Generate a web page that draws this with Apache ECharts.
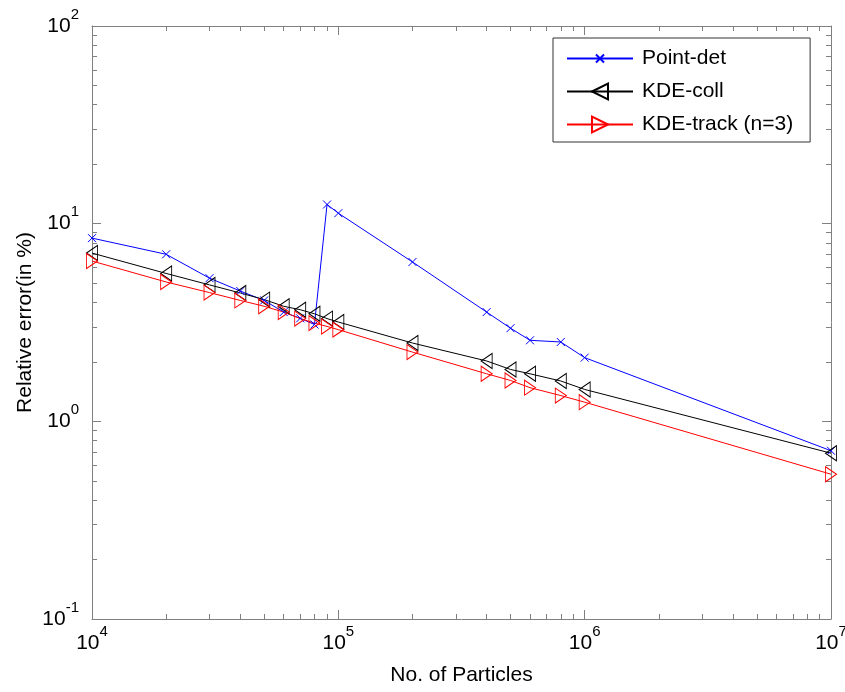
<!DOCTYPE html>
<html>
<head>
<meta charset="utf-8">
<script src="https://cdn.jsdelivr.net/npm/echarts@6/dist/echarts.min.js"></script>
<style>
html,body{margin:0;padding:0;background:#fff;}
#chart{width:845px;height:692px;}
</style>
</head>
<body>
<div id="chart"></div>
<script>
// ---- data ----
var particles = [1e4, 2e4, 3e4, 4e4, 5e4, 6e4, 7e4, 8e4, 9e4, 1e5, 2e5, 4e5, 5e5, 6e5, 8e5, 1e6, 1e7];
var pointDet  = [8.45, 7.0, 5.3, 4.56, 4.09, 3.57, 3.32, 3.09, 12.5, 11.3, 6.4, 3.57, 2.96, 2.57, 2.52, 2.1, 0.71];
var kdeColl   = [7.1, 5.6, 4.9, 4.46, 4.13, 3.82, 3.67, 3.5, 3.31, 3.18, 2.49, 2.02, 1.83, 1.74, 1.6, 1.45, 0.69];
var kdeTrack  = [6.47, 5.07, 4.48, 4.09, 3.82, 3.57, 3.31, 3.14, 3.02, 2.91, 2.24, 1.74, 1.61, 1.48, 1.35, 1.25, 0.54];
var seriesNames = ['Point-det', 'KDE-coll', 'KDE-track (n=3)'];
var xMajorTicks = [1e4, 1e5, 1e6, 1e7];
var yMajorTicks = [0.1, 1, 10, 100];
var xMinorTicks = [2e4,3e4,4e4,5e4,6e4,7e4,8e4,9e4, 2e5,3e5,4e5,5e5,6e5,7e5,8e5,9e5, 2e6,3e6,4e6,5e6,6e6,7e6,8e6,9e6];
var yMinorTicks = [0.2,0.3,0.4,0.5,0.6,0.7,0.8,0.9, 2,3,4,5,6,7,8,9, 20,30,40,50,60,70,80,90];
var xName = 'No. of Particles';
var yName = 'Relative error(in %)';

function pairs(xs, ys) { return xs.map(function (x, i) { return [x, ys[i]]; }); }

var FONT = '"Liberation Sans", Arial, Helvetica, sans-serif';
var AXIS_GRAY = '#808080';

function powLabel(v) {
  var e = Math.round(Math.log10(v));
  return '{b|10}{s|' + e + '}';
}
var labelRich = {
  b: { fontSize: 21, lineHeight: 21, fontFamily: FONT, color: '#000', verticalAlign: 'middle' },
  s: { fontSize: 15, lineHeight: 15, fontFamily: FONT, color: '#000', padding: [0, 0, 23, 0], verticalAlign: 'middle' }
};

function mkX(pos, ticks, len, showLabel, showLine) {
  return {
    type: 'log', logBase: 10, min: 1e4, max: 1e7, position: pos, gridIndex: 0,
    axisLine: { show: showLine, lineStyle: { color: AXIS_GRAY, width: 1 } },
    axisTick: { show: true, inside: true, length: len, customValues: ticks, lineStyle: { color: AXIS_GRAY, width: 1 } },
    axisLabel: showLabel ? { show: true, customValues: ticks, margin: 14, formatter: powLabel, rich: labelRich } : { show: false },
    splitLine: { show: false }, minorTick: { show: false }
  };
}
function mkY(pos, ticks, len, showLabel, showLine) {
  return {
    type: 'log', logBase: 10, min: 0.1, max: 100, position: pos, gridIndex: 0,
    axisLine: { show: showLine, lineStyle: { color: AXIS_GRAY, width: 1 } },
    axisTick: { show: true, inside: true, length: len, customValues: ticks, lineStyle: { color: AXIS_GRAY, width: 1 } },
    axisLabel: showLabel ? { show: true, customValues: ticks, margin: 13, formatter: powLabel, rich: labelRich } : { show: false },
    splitLine: { show: false }, minorTick: { show: false }
  };
}

var xAxes = [
  mkX('bottom', xMajorTicks, 9, true, true),
  mkX('bottom', xMinorTicks, 5, false, false),
  mkX('top', xMajorTicks, 9, false, true),
  mkX('top', xMinorTicks, 5, false, false)
];
xAxes[0].name = xName;
xAxes[0].nameLocation = 'middle';
xAxes[0].nameGap = 46;
xAxes[0].nameMoveOverlap = false;
xAxes[0].nameTextStyle = { fontSize: 21, fontFamily: FONT, color: '#000' };

var yAxes = [
  mkY('left', yMajorTicks, 9, true, true),
  mkY('left', yMinorTicks, 5, false, false),
  mkY('right', yMajorTicks, 9, false, true),
  mkY('right', yMinorTicks, 5, false, false)
];
yAxes[0].name = yName;
yAxes[0].nameLocation = 'middle';
yAxes[0].nameGap = 56;
yAxes[0].nameMoveOverlap = false;
yAxes[0].nameTextStyle = { fontSize: 21, fontFamily: FONT, color: '#000' };

// cross drawn in the middle half of its box, so the same symbol size works for plot and legend
var SYM_X = 'path://M-5,-5M15,15M0,0L10,10M10,0L0,10';
var SYM_LEFT = 'path://M0,8L12,0L12,16Z';
var SYM_RIGHT = 'path://M12,8L0,0L0,16Z';

var colors = ['#0000ff', '#000000', '#ff0000'];

function mkSeries(name, ys, color, sym, size) {
  return {
    name: name, type: 'line', xAxisIndex: 0, yAxisIndex: 0,
    data: pairs(particles, ys),
    symbol: sym, symbolSize: size, showSymbol: true,
    lineStyle: { color: color, width: 1 },
    itemStyle: { color: 'rgba(0,0,0,0)', borderColor: color, borderWidth: 1 },
    emphasis: { disabled: true },
    animation: false
  };
}

var chart = echarts.init(document.getElementById('chart'), null, { renderer: 'canvas' });
chart.setOption({
  backgroundColor: '#fff',
  animation: false,
  textStyle: { fontFamily: FONT },
  grid: { left: 92, top: 26, right: 14, bottom: 73, containLabel: false, outerBoundsMode: 'none' },
  xAxis: xAxes,
  yAxis: yAxes,
  legend: {
    show: true,
    orient: 'vertical',
    left: 553, top: 38,
    padding: [10, 17, 7, 13],
    itemGap: 12,
    itemWidth: 66, itemHeight: 20,
    backgroundColor: '#fff',
    borderColor: '#333',
    borderWidth: 1,
    borderRadius: 0,
    textStyle: { fontSize: 21, lineHeight: 21, fontFamily: FONT, color: '#000', padding: [0, 0, 0, 4] },
    data: seriesNames
  },
  series: [
    mkSeries(seriesNames[0], pointDet, colors[0], SYM_X, 16),
    mkSeries(seriesNames[1], kdeColl, colors[1], SYM_LEFT, [11, 15]),
    mkSeries(seriesNames[2], kdeTrack, colors[2], SYM_RIGHT, [11, 15])
  ]
});
</script>
</body>
</html>
